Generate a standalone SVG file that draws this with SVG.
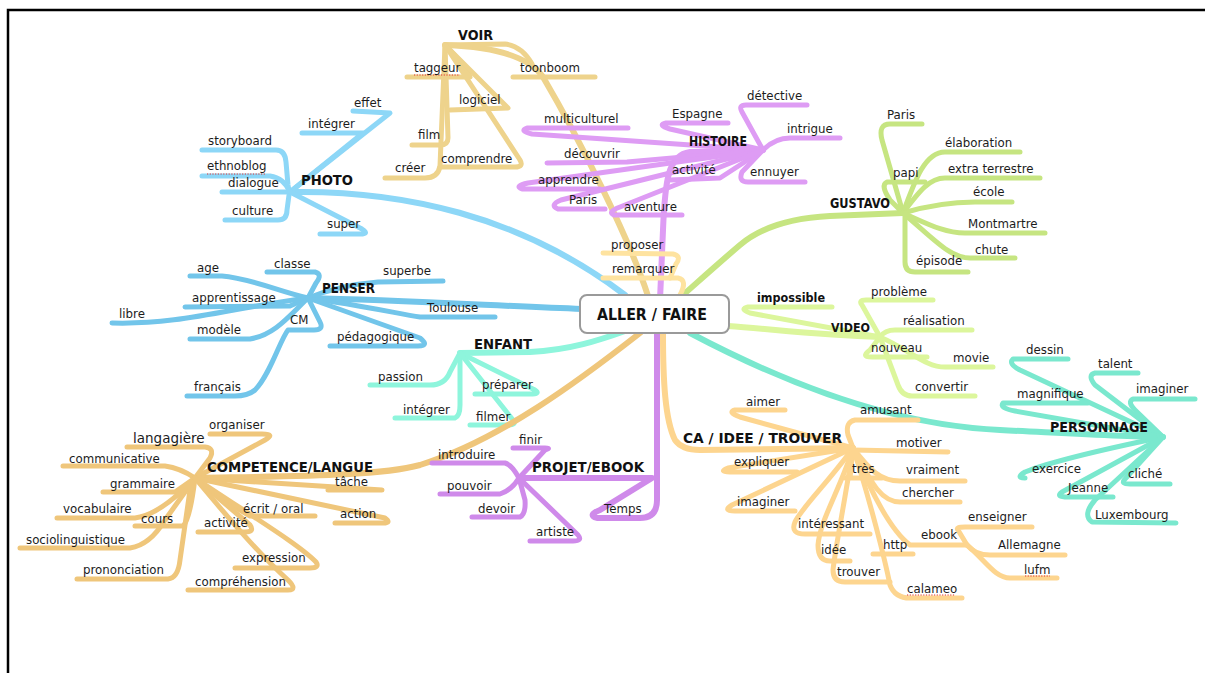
<svg xmlns="http://www.w3.org/2000/svg" width="1205" height="673" viewBox="0 0 1205 673">
<style>
.c path{fill:none;stroke-width:5;stroke-linecap:round;stroke-linejoin:round}
.c path.m{stroke-width:6}
.p1{stroke:#8dd7f7}.pe{stroke:#72c5ea}.vo{stroke:#eed38c}.hi{stroke:#de9cf4}.gu{stroke:#c6e581}.vi{stroke:#dcf69c}.ps{stroke:#7ae8ce}.en{stroke:#8ef5dc}.co{stroke:#efc67b}.pr{stroke:#cf8aea}.ca{stroke:#fdd58f}.pp{stroke:#fee3a0}
text{font-family:"DejaVu Sans",Verdana,sans-serif;font-size:11.8px;fill:#1c1c1c}
text.b{font-weight:bold;fill:#111;font-size:14px}
.sp{stroke:#e03030;stroke-width:1.2;stroke-dasharray:1.2 1.5;fill:none}
</style>
<rect width="1205" height="673" fill="#fff"/>
<path d="M8,673 L8,10 L1205,10" fill="none" stroke="#000" stroke-width="2.5"/>
<g id="connectors" class="c">
<!-- PHOTO -->
<path class="p1 m" d="M290,192 C400,190 520,215 625,295"/>
<path class="p1" d="M290,192 L390,113 L353,111"/>
<path class="p1" d="M290,192 L363,133 L302,133"/>
<path class="p1" d="M202,150 L276,150 Q285,150 286,162 L288,185 Q289,192 290,192"/>
<path class="p1" d="M202,176 L270,176 Q284,178 290,192"/>
<path class="p1" d="M222,192 L290,192"/>
<path class="p1" d="M225,220 L278,220 Q287,220 287,210 L289,195"/>
<path class="p1" d="M290,192 L362,229 Q370,234 360,234 L320,234"/>
<!-- VOIR -->
<path class="vo m" d="M648,296 C630,240 580,140 543,77 C530,58 500,47 445,45"/>
<path class="vo" d="M445,45 L505,44 Q522,46 532,64"/>
<path class="vo" d="M513,77 L595,77"/>
<path class="vo" d="M445,45 Q465,65 470,77 L407,77"/>
<path class="vo" d="M445,45 L508,108 L450,110"/>
<path class="vo" d="M445,45 L448,138 Q448,145 440,145 L412,145"/>
<path class="vo" d="M445,45 L440,166 Q438,178 425,178 L385,178"/>
<path class="vo" d="M445,45 L520,160 Q524,167 515,167 L440,167"/>
<!-- HISTOIRE -->
<path class="hi m" d="M660,300 L663,230 C665,180 668,155 690,152 L763,150"/>
<path class="hi" d="M728,123 L666,123 Q657,125 670,129 L763,150"/>
<path class="hi" d="M763,150 L742,112 Q738,105 746,105 L807,105"/>
<path class="hi" d="M763,150 Q775,138 790,138 L840,138"/>
<path class="hi" d="M763,150 L742,172 Q738,182 748,182 L805,182"/>
<path class="hi" d="M628,128 L527,128 Q519,131 532,134 L763,150"/>
<path class="hi" d="M547,163 L627,162 L763,150"/>
<path class="hi" d="M600,189 L522,189 Q514,186 528,183 L763,150"/>
<path class="hi" d="M605,209 L558,209 Q549,205 561,200 L763,150"/>
<path class="hi" d="M763,150 L720,178 L670,180"/>
<path class="hi" d="M682,215 L614,215 Q607,212 620,207 L763,150"/>
<!-- GUSTAVO -->
<path class="gu m" d="M903,213 L830,216 C790,218 760,228 740,245 S700,280 683,295"/>
<path class="gu" d="M903,213 L882,140 Q878,124 890,124 L922,124"/>
<path class="gu" d="M903,213 C915,180 925,152 945,152 L1020,152"/>
<path class="gu" d="M903,213 C920,190 930,178 945,178 L1040,178"/>
<path class="gu" d="M925,182 L887,182 Q880,185 890,200 L903,213"/>
<path class="gu" d="M903,213 C930,205 950,202 975,202 L1012,202"/>
<path class="gu" d="M903,213 C930,225 945,233 965,233 L1045,233"/>
<path class="gu" d="M903,213 C935,240 950,258 970,258 L1015,258"/>
<path class="gu" d="M905,213 L905,262 Q905,272 915,272 L968,272"/>
<!-- PENSER -->
<path class="pe m" d="M308,298 C400,300 500,306 582,309"/>
<path class="pe" d="M308,298 C360,305 400,314 420,317 L495,317"/>
<path class="pe" d="M308,298 Q340,285 378,282 L443,281"/>
<path class="pe" d="M190,276 L222,276 C250,278 280,292 308,298"/>
<path class="pe" d="M267,272 L315,272 Q323,274 316,283 L308,298"/>
<path class="pe" d="M185,307 L290,306 L308,298"/>
<path class="pe" d="M112,323 C180,325 230,308 308,298"/>
<path class="pe" d="M190,339 L250,339 C275,335 290,315 308,298"/>
<path class="pe" d="M308,298 L320,322 Q324,330 314,330 L288,330 C280,340 270,375 255,390 Q248,396 235,396 L187,396"/>
<path class="pe" d="M308,298 L420,338 Q430,346 418,346 L330,346"/>
<!-- ENFANT -->
<path class="en m" d="M460,353 L530,352 C570,350 600,340 625,331"/>
<path class="en" d="M370,385 L430,385 Q445,385 450,372 L460,353"/>
<path class="en" d="M395,418 L455,418 Q460,416 460,405 L460,353"/>
<path class="en" d="M460,353 L535,390 Q541,394 530,394 L475,394"/>
<path class="en" d="M460,353 L513,420 Q517,425 508,425 L470,425"/>
<!-- VIDEO -->
<path class="vi m" d="M728,326 C780,330 820,335 880,337"/>
<path class="vi" d="M832,307 L748,307 Q739,309 750,313 L880,337"/>
<path class="vi" d="M880,337 L862,305 Q858,300 866,300 L933,300"/>
<path class="vi" d="M880,337 Q885,330 895,330 L972,330"/>
<path class="vi" d="M880,337 L870,350 Q860,357 872,357 L927,357"/>
<path class="vi" d="M880,337 C910,350 925,367 945,367 L993,367"/>
<path class="vi" d="M880,337 L898,385 Q902,396 912,396 L975,396"/>
<!-- PERSONNAGE -->
<path class="ps m" d="M690,333 C760,370 880,425 1000,430 C1080,434 1130,437 1163,437"/>
<path class="ps" d="M1068,359 L1013,359 Q1008,364 1020,370 L1163,437"/>
<path class="ps" d="M1138,373 L1095,373 Q1087,375 1095,385 L1163,437"/>
<path class="ps" d="M1195,399 L1133,399 Q1127,402 1135,410 L1163,437"/>
<path class="ps" d="M1088,403 L1003,403 Q999,408 1015,411 L1163,437"/>
<path class="ps" d="M1163,437 C1100,450 1050,462 1025,472 Q1015,478 1025,478"/>
<path class="ps" d="M1163,437 L1125,479 Q1120,484 1130,484 L1170,484"/>
<path class="ps" d="M1163,437 L1062,492 Q1055,497 1068,497 L1113,497"/>
<path class="ps" d="M1163,437 L1095,500 Q1082,515 1092,522 L1176,523"/>
<!-- COMPETENCE/LANGUE -->
<path class="co m" d="M195,478 C300,476 380,476 420,465 C500,440 580,380 640,333"/>
<path class="co" d="M195,478 L265,440 Q276,434 262,434 L210,434"/>
<path class="co" d="M127,447 L205,447 Q215,448 210,458 L195,478"/>
<path class="co" d="M63,466 L165,466 Q180,468 195,478"/>
<path class="co" d="M103,492 L175,492 L195,478"/>
<path class="co" d="M195,478 L382,490 L328,490"/>
<path class="co" d="M57,518 L135,518 Q160,515 195,478"/>
<path class="co" d="M135,526 L183,526 Q190,520 195,478"/>
<path class="co" d="M20,548 L130,548 Q150,545 165,520 L195,478"/>
<path class="co" d="M77,579 L168,579 Q178,578 180,560 L190,490 L195,478"/>
<path class="co" d="M195,478 Q230,505 250,516 L315,516"/>
<path class="co" d="M195,478 L385,518 Q392,523 383,523 L335,523"/>
<path class="co" d="M195,478 L250,525 Q255,532 245,532 L198,532"/>
<path class="co" d="M195,478 C250,515 300,545 316,562 Q320,568 310,568 L235,568"/>
<path class="co" d="M195,478 C230,520 260,555 288,580 Q298,590 288,590 L188,590"/>
<!-- PROJET/EBOOK -->
<path class="pr m" d="M657,333 L657,500 Q657,518 640,518 L597,518 Q587,515 600,510 L652,478 L519,478"/>
<path class="pr" d="M519,478 L545,450 Q552,448 545,448 L513,448"/>
<path class="pr" d="M432,463 L505,463 Q512,465 519,478"/>
<path class="pr" d="M440,494 L500,494 Q512,490 519,478"/>
<path class="pr" d="M472,517 L520,517 Q526,514 525,500 L519,478"/>
<path class="pr" d="M519,478 L578,535 Q583,541 573,541 L530,541"/>
<!-- CA / IDEE / TROUVER -->
<path class="ca m" d="M663,333 C663,380 665,420 675,440 Q682,450 700,450 L853,448"/>
<path class="ca" d="M785,410 L735,410 Q727,412 740,417 L853,448"/>
<path class="ca" d="M918,420 L855,420 Q845,422 848,435 L853,448"/>
<path class="ca" d="M853,450 L948,452"/>
<path class="ca" d="M853,448 L850,478 L845,478 L882,478"/>
<path class="ca" d="M853,448 C870,470 880,481 900,481 L965,481"/>
<path class="ca" d="M853,448 C870,480 880,502 900,502 L960,502"/>
<path class="ca" d="M853,448 L728,468 Q718,472 730,472 L797,472"/>
<path class="ca" d="M853,448 L732,505 Q722,511 735,511 L795,511"/>
<path class="ca" d="M853,448 C830,480 800,510 795,522 Q790,534 805,534 L870,534"/>
<path class="ca" d="M853,448 C840,490 820,520 818,545 Q818,561 830,561 L850,561"/>
<path class="ca" d="M853,448 C845,500 835,550 833,570 Q833,582 845,582 L890,582"/>
<path class="ca" d="M853,448 C870,500 885,560 890,585 Q895,598 910,598 L962,598"/>
<path class="ca" d="M853,448 C870,490 890,530 910,545 L967,545"/>
<path class="ca" d="M873,554 L913,554"/>
<path class="ca" d="M967,545 L958,530 Q955,527 965,527 L1032,527"/>
<path class="ca" d="M967,545 Q975,555 990,555 L1065,555"/>
<path class="ca" d="M967,545 C985,560 995,578 1010,578 L1057,578"/>
<!-- proposer / remarquer -->
<path class="pp" d="M603,278 L678,278 Q688,280 680,295"/>
<path class="pp" d="M603,253 L673,254 Q682,256 676,264 L670,278"/>
</g>
<g id="spell">
<path class="sp" d="M414,75 L460,75"/>
<path class="sp" d="M207,174 L265,174"/>
<path class="sp" d="M1025,576 L1050,576"/>
<path class="sp" d="M907,595 L955,595"/>
</g>
<g id="n-center">
<rect x="580" y="295" width="149" height="38" rx="7" fill="#fff" stroke="#9a9a9a" stroke-width="2"/>
<text class="b" x="597" y="320" style="font-size:15px" textLength="110" lengthAdjust="spacingAndGlyphs">ALLER / FAIRE</text>
</g>
<g id="n-photo">
<text class="b" x="301" y="185" style="font-size:14.5px" textLength="52" lengthAdjust="spacingAndGlyphs">PHOTO</text>
<text x="354" y="107">effet</text>
<text x="308" y="128">intégrer</text>
<text x="208" y="145">storyboard</text>
<text x="207" y="170">ethnoblog</text>
<text x="228" y="187">dialogue</text>
<text x="232" y="215">culture</text>
<text x="327" y="228">super</text>
</g>
<g id="n-voir">
<text class="b" x="458" y="40" textLength="35" lengthAdjust="spacingAndGlyphs">VOIR</text>
<text x="414" y="72">taggeur</text>
<text x="520" y="72">toonboom</text>
<text x="459" y="104">logiciel</text>
<text x="418" y="139">film</text>
<text x="441" y="163">comprendre</text>
<text x="395" y="172">créer</text>
</g>
<g id="n-histoire">
<text class="b" x="689" y="146" style="font-size:13.5px" textLength="58" lengthAdjust="spacingAndGlyphs">HISTOIRE</text>
<text x="672" y="118">Espagne</text>
<text x="747" y="100">détective</text>
<text x="787" y="133">intrigue</text>
<text x="750" y="176">ennuyer</text>
<text x="544" y="123">multiculturel</text>
<text x="564" y="158">découvrir</text>
<text x="538" y="184">apprendre</text>
<text x="569" y="204">Paris</text>
<text x="672" y="174">activité</text>
<text x="624" y="211">aventure</text>
</g>
<g id="n-gustavo">
<text class="b" x="830" y="208" style="font-size:13.5px" textLength="60" lengthAdjust="spacingAndGlyphs">GUSTAVO</text>
<text x="887" y="119">Paris</text>
<text x="945" y="147">élaboration</text>
<text x="948" y="173">extra terrestre</text>
<text x="893" y="177">papi</text>
<text x="973" y="196">école</text>
<text x="968" y="228">Montmartre</text>
<text x="975" y="254">chute</text>
<text x="916" y="265">épisode</text>
</g>
<g id="n-penser">
<text class="b" x="322" y="293" textLength="53" lengthAdjust="spacingAndGlyphs">PENSER</text>
<text x="197" y="272">age</text>
<text x="274" y="268">classe</text>
<text x="383" y="275">superbe</text>
<text x="192" y="302">apprentissage</text>
<text x="119" y="318">libre</text>
<text x="427" y="312">Toulouse</text>
<text x="290" y="324">CM</text>
<text x="197" y="334">modèle</text>
<text x="337" y="341">pédagogique</text>
<text x="194" y="391">français</text>
</g>
<g id="n-enfant">
<text class="b" x="474" y="349" textLength="58" lengthAdjust="spacingAndGlyphs">ENFANT</text>
<text x="378" y="381">passion</text>
<text x="482" y="389">préparer</text>
<text x="403" y="414">intégrer</text>
<text x="476" y="421">filmer</text>
</g>
<g id="n-video">
<text class="b" x="831" y="332" style="font-size:12.5px" textLength="39" lengthAdjust="spacingAndGlyphs">VIDEO</text>
<text class="b" x="757" y="302" style="font-size:13px" textLength="68" lengthAdjust="spacingAndGlyphs">impossible</text>
<text x="871" y="296">problème</text>
<text x="903" y="325">réalisation</text>
<text x="871" y="352">nouveau</text>
<text x="953" y="362">movie</text>
<text x="915" y="391">convertir</text>
</g>
<g id="n-personnage">
<text class="b" x="1050" y="432" style="font-size:13.5px" textLength="98" lengthAdjust="spacingAndGlyphs">PERSONNAGE</text>
<text x="1026" y="354">dessin</text>
<text x="1098" y="368">talent</text>
<text x="1136" y="393">imaginer</text>
<text x="1017" y="398">magnifique</text>
<text x="1032" y="473">exercice</text>
<text x="1128" y="478">cliché</text>
<text x="1068" y="492">Jeanne</text>
<text x="1095" y="519">Luxembourg</text>
</g>
<g id="n-competence">
<text class="b" x="207" y="472" textLength="166" lengthAdjust="spacingAndGlyphs">COMPETENCE/LANGUE</text>
<text x="209" y="429">organiser</text>
<text x="133" y="443" style="font-size:13.5px">langagière</text>
<text x="69" y="463">communicative</text>
<text x="110" y="488">grammaire</text>
<text x="335" y="486">tâche</text>
<text x="63" y="513">vocabulaire</text>
<text x="141" y="523">cours</text>
<text x="26" y="544">sociolinguistique</text>
<text x="83" y="574">prononciation</text>
<text x="243" y="513">écrit / oral</text>
<text x="340" y="518">action</text>
<text x="204" y="527">activité</text>
<text x="242" y="562">expression</text>
<text x="195" y="586">compréhension</text>
</g>
<g id="n-projet">
<text class="b" x="532" y="472" textLength="112" lengthAdjust="spacingAndGlyphs">PROJET/EBOOK</text>
<text x="519" y="444">finir</text>
<text x="438" y="459">introduire</text>
<text x="447" y="490">pouvoir</text>
<text x="478" y="513">devoir</text>
<text x="536" y="536">artiste</text>
<text x="604" y="513">Temps</text>
</g>
<g id="n-ca">
<text class="b" x="683" y="443" textLength="159" lengthAdjust="spacingAndGlyphs">CA / IDEE / TROUVER</text>
<text x="746" y="406">aimer</text>
<text x="860" y="414">amusant</text>
<text x="896" y="447">motiver</text>
<text x="852" y="473">très</text>
<text x="906" y="474">vraiment</text>
<text x="734" y="466">expliquer</text>
<text x="902" y="497">chercher</text>
<text x="737" y="506">imaginer</text>
<text x="798" y="528">intéressant</text>
<text x="821" y="554">idée</text>
<text x="837" y="576">trouver</text>
<text x="883" y="549">http</text>
<text x="921" y="539">ebook</text>
<text x="968" y="521">enseigner</text>
<text x="998" y="549">Allemagne</text>
<text x="1024" y="574">lufm</text>
<text x="907" y="593">calameo</text>
</g>
<g id="n-proposer">
<text x="611" y="249">proposer</text>
<text x="612" y="273">remarquer</text>
</g>
</svg>
